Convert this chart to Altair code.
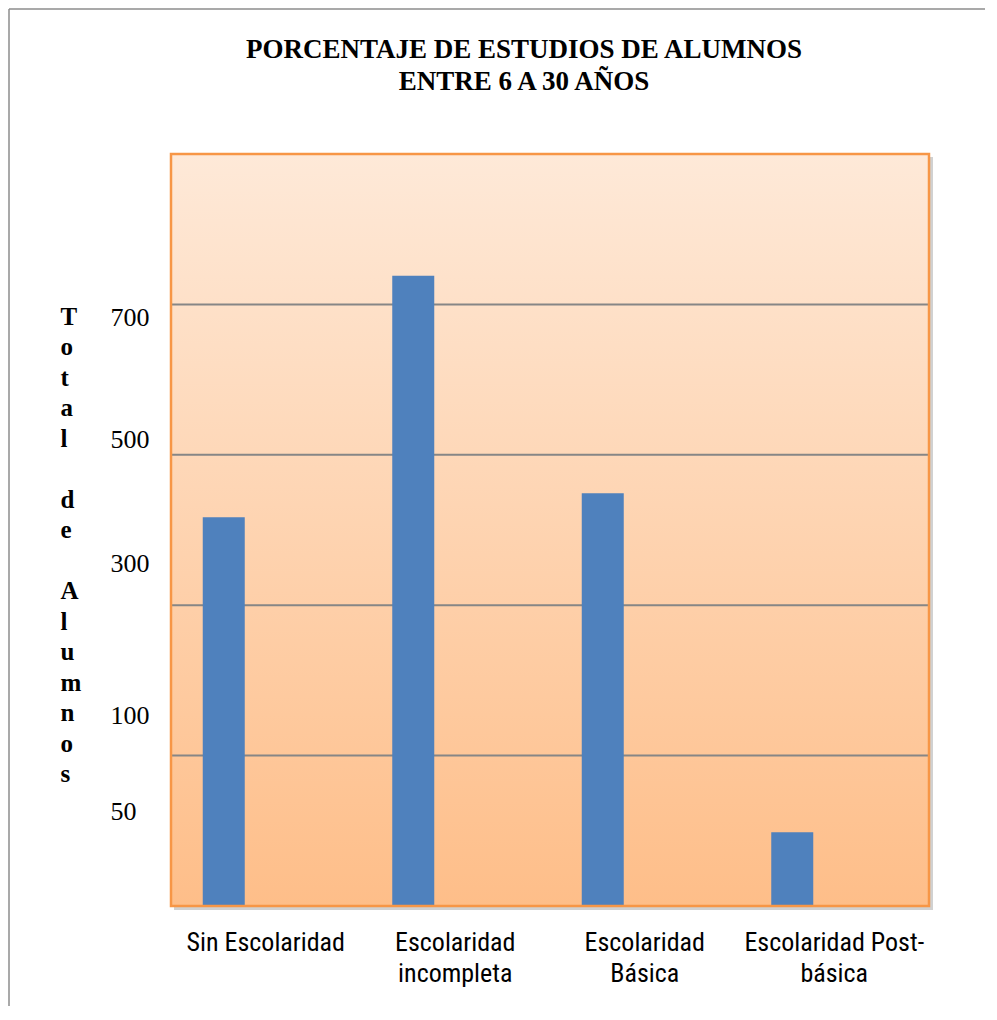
import json
import altair as alt
import pandas as pd

# ---- data ----
categories = ["Sin Escolaridad", "Escolaridad incompleta", "Escolaridad Básica", "Escolaridad Post-básica"]
category_lines = [["Sin Escolaridad"], ["Escolaridad", "incompleta"], ["Escolaridad", "Básica"], ["Escolaridad Post-", "básica"]]
alumnos = [517, 838, 549, 98]
grid_values = [200, 400, 600, 800]
y_tick_positions = [126, 253, 455, 621, 782]
y_tick_labels = ["50", "100", "300", "500", "700"]
y_title_lines = ["T", "o", "t", "a", "l", "\u2800", "d", "e", "\u2800", "A", "l", "u", "m", "n", "o", "s"]
title_lines = ["PORCENTAJE DE ESTUDIOS DE ALUMNOS", "ENTRE 6 A 30 AÑOS"]

W, H = 758, 752
SERIF = "Liberation Serif, Times New Roman, DejaVu Serif, serif"
SANS = "Liberation Sans Narrow, Roboto Condensed, DejaVu Sans Condensed, sans-serif"

df = pd.DataFrame({"categoria": categories, "alumnos": alumnos})
grid_df = pd.DataFrame({"g": grid_values})
one = alt.Data(values=[{"k": 0}])

yscale = alt.Scale(domain=[0, 1000], nice=False, zero=True)
y_label_expr = "{}[indexof({}, datum.value)]".format(json.dumps(y_tick_labels), json.dumps(y_tick_positions))
yaxis = alt.Axis(
    values=y_tick_positions, labelExpr=y_label_expr, grid=False, ticks=False, domain=False,
    labelAlign="left", labelPadding=61, labelBaseline="middle", labelFont=SERIF, labelFontSize=26,
    labelColor="#000000",
    title=y_title_lines, titleAngle=0, titleAlign="left", titleBaseline="middle",
    titleX=-111, titleY=162, titleFont=SERIF, titleFontSize=25, titleFontWeight="bold",
    titleLineHeight=30.5, titleColor="#000000",
)
x_label_expr = "{}[indexof({}, datum.value)]".format(json.dumps(category_lines, ensure_ascii=False), json.dumps(categories, ensure_ascii=False))
xaxis = alt.Axis(
    labelExpr=x_label_expr, labelAngle=0, ticks=False, domain=False, grid=False,
    labelFont=SANS, labelFontSize=26, labelLineHeight=31, labelBaseline="top", labelPadding=23,
    labelColor="#000000", title=None,
)

gradient = alt.Gradient(
    gradient="linear",
    stops=[alt.GradientStop(offset=0, color="#FEE9D8"), alt.GradientStop(offset=1, color="#FEBE89")],
    x1=0, x2=0, y1=0, y2=1,
)

shadow = alt.Chart(one).mark_rect(color="#000000", opacity=0.18).encode(
    x=alt.value(3), x2=alt.value(W + 4), y=alt.value(3), y2=alt.value(H + 4)
)
bg = alt.Chart(one).mark_rect(color=gradient).encode(
    x=alt.value(0), x2=alt.value(W), y=alt.value(0), y2=alt.value(H)
)
grid = alt.Chart(grid_df).mark_rule(color="#868686", strokeWidth=2).encode(
    y=alt.Y("g:Q", scale=yscale, axis=yaxis)
)
bars = alt.Chart(df).mark_bar(color="#4F81BD", size=42, xOffset=-42).encode(
    x=alt.X("categoria:N", sort=categories, scale=alt.Scale(paddingInner=0, paddingOuter=0), axis=xaxis),
    y=alt.Y("alumnos:Q", scale=yscale, axis=yaxis),
)
border = alt.Chart(one).mark_rect(fillOpacity=0, stroke="#F79646", strokeWidth=2.5).encode(
    x=alt.value(0), x2=alt.value(W), y=alt.value(0), y2=alt.value(H)
)
outer_left = alt.Chart(one).mark_rule(color="#8C8C8C", strokeWidth=1.5).encode(
    x=alt.value(-162), y=alt.value(-145), y2=alt.value(852)
)
outer_top = alt.Chart(one).mark_rule(color="#8C8C8C", strokeWidth=1.5).encode(
    x=alt.value(-162), x2=alt.value(814), y=alt.value(-145)
)

chart = alt.layer(shadow, bg, grid, bars, border, outer_left, outer_top).properties(
    width=W, height=H,
    padding={"left": 0, "top": 0, "right": 0, "bottom": 0},
    title=alt.TitleParams(
        text=title_lines, font=SERIF, fontSize=27, fontWeight="bold", lineHeight=32,
        anchor="middle", frame="group", dx=-26, offset=-88, color="#000000",
    ),
).configure_view(stroke=None).configure(background="#FFFFFF")

chart.save("out.html", embed_options={"renderer": "svg", "actions": False})
